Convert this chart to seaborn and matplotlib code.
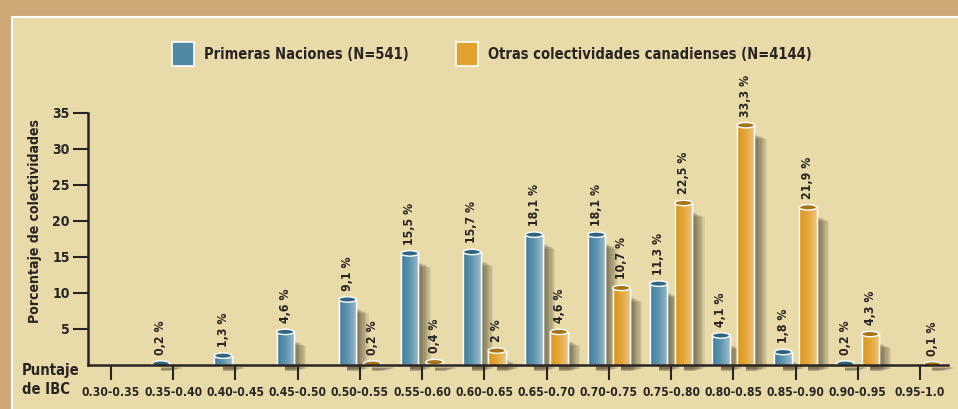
import numpy as np
import pandas as pd
import matplotlib
matplotlib.use("Agg")
import matplotlib.pyplot as plt
from matplotlib import font_manager as fm
import seaborn as sns
from matplotlib.patches import Rectangle, Ellipse, Patch
from matplotlib.colors import LinearSegmentedColormap

# Data (percent of communities per IBC score band)
categories = ["0.30-0.35", "0.35-0.40", "0.40-0.45", "0.45-0.50", "0.50-0.55",
              "0.55-0.60", "0.60-0.65", "0.65-0.70", "0.70-0.75", "0.75-0.80",
              "0.80-0.85", "0.85-0.90", "0.90-0.95", "0.95-1.0"]
first_nations = [np.nan, 0.2, 1.3, 4.6, 9.1, 15.5, 15.7, 18.1, 18.1, 11.3,
                 4.1, 1.8, 0.2, np.nan]
other_communities = [np.nan, np.nan, np.nan, np.nan, 0.2, 0.4, 2, 4.6, 10.7,
                     22.5, 33.3, 21.9, 4.3, 0.1]
series_names = ["Primeras Naciones (N=541)",
                "Otras colectividades canadienses (N=4144)"]

df = pd.DataFrame({
    "cat": categories * 2,
    "serie": [series_names[0]] * len(categories) + [series_names[1]] * len(categories),
    "valor": first_nations + other_communities,
})

# Colours
bg_outer = "#CFA878"
bg_inner = "#E8DAA9"
ink = "#2A2522"
blue = "#4F89A5"
orange = "#E2A22E"
cmaps = [LinearSegmentedColormap.from_list("b", ["#3F7D9B", "#5F95AF", "#9DBCCB"]),
         LinearSegmentedColormap.from_list("o", ["#D9961C", "#E5A73A", "#EDC585"])]
cap_colors = ["#2E6580", "#A47418"]

# pick a narrow font if one is installed
names = {f.name for f in fm.fontManager.ttflist}
has_cond = any(f.name == "DejaVu Sans" and ("ondensed" in f.fname or str(f.stretch) == "condensed")
               for f in fm.fontManager.ttflist)
if "Liberation Sans Narrow" in names:
    font = ["Liberation Sans Narrow", "DejaVu Sans"]
    stretch = "normal"
    scale = 1.05
elif has_cond:
    font = ["DejaVu Sans"]
    stretch = "condensed"
    scale = 0.8
else:
    font = ["DejaVu Sans"]
    stretch = "normal"
    scale = 0.72
plt.rcParams["font.family"] = font
plt.rcParams["font.stretch"] = stretch
plt.rcParams["font.weight"] = "bold"

fig = plt.figure(figsize=(9.58, 4.09), dpi=100, facecolor=bg_outer)
# inner cream panel with white border
fig.patches.append(Rectangle((12 / 958, -0.05), 1.0, 0.958 + 0.05,
                             transform=fig.transFigure, facecolor=bg_inner,
                             edgecolor="white", linewidth=1.5, zorder=-5))

ax = fig.add_axes([88 / 958, 44 / 409, 860 / 958, 252 / 409])
ax.set_facecolor("none")
ax.set_zorder(2)

sns.barplot(data=df, x="cat", y="valor", hue="serie", order=categories,
            hue_order=series_names, palette=[blue, orange], width=0.8, gap=0.3,
            edgecolor="white", linewidth=1.0, legend=False, ax=ax, zorder=3)

ax.set_xlim(-0.37, 13.45)
ax.set_ylim(0, 35)
ylim = ax.get_ylim()
xlim = ax.get_xlim()

grad = np.linspace(0, 1, 64).reshape(1, -1)
for i, cont in enumerate(ax.containers):
    for p in cont.patches:
        h = p.get_height()
        if not np.isfinite(h) or h <= 0:
            continue
        x0 = p.get_x()
        w = p.get_width()
        # soft shadow to the right of the bar
        for k in range(10):
            ax.add_patch(Rectangle((x0 + w * 0.5, -0.9 + 0.04 * k),
                                   w * 0.5 + 0.02 * (k + 1),
                                   max(h - 0.3 - 0.12 * k, 0.3),
                                   facecolor="#39331F", edgecolor="none",
                                   alpha=0.085, zorder=1, clip_on=False))
        # gradient fill
        im = ax.imshow(grad, extent=[x0, x0 + w, 0, h], cmap=cmaps[i],
                       aspect="auto", zorder=3.5, interpolation="bilinear")
        im.set_clip_path(p)
        ax.add_patch(Rectangle((x0, 0), w, h, facecolor="none",
                               edgecolor="white", linewidth=1.0, zorder=4))
        # cylinder cap
        ax.add_patch(Ellipse((x0 + w / 2, h), w, 0.75, facecolor=cap_colors[i],
                             edgecolor="white", linewidth=1.0, zorder=5))
        # value label
        txt = f"{h:g}".replace(".", ",") + " %"
        ax.text(x0 + w / 2, h + 1.2, txt, rotation=90, ha="center", va="bottom",
                fontsize=11 * scale, fontweight="bold", color=ink, zorder=6)

ax.set_xlim(xlim)
ax.set_ylim(ylim)

# axes styling
for s in ["top", "right"]:
    ax.spines[s].set_visible(False)
for s in ["left", "bottom"]:
    ax.spines[s].set_color(ink)
    ax.spines[s].set_linewidth(1.8)
    ax.spines[s].set_zorder(7)

ax.set_yticks([5, 10, 15, 20, 25, 30, 35])
ax.tick_params(axis="y", length=11, width=1.5, color=ink, labelsize=12.5 * scale,
               labelcolor=ink, pad=2)
ax.tick_params(axis="x", length=11, width=1.5, color=ink, labelsize=10.8 * scale,
               labelcolor=ink, pad=4)
for lab in ax.get_xticklabels() + ax.get_yticklabels():
    lab.set_fontweight("bold")

ax.set_xlabel("")
ax.set_ylabel("Porcentaje de colectividades", fontsize=12.6 * scale,
              fontweight="bold", color=ink)
ax.yaxis.set_label_coords(-0.054, 0.57)

fig.text(22 / 958, 1 - 370 / 409, "Puntaje", fontsize=13.3 * scale,
         fontweight="bold", color=ink, va="center", ha="left")
fig.text(22 / 958, 1 - 389 / 409, "de IBC", fontsize=13.3 * scale,
         fontweight="bold", color=ink, va="center", ha="left")

handles = [Patch(facecolor=blue, edgecolor="white", linewidth=1.2),
           Patch(facecolor=orange, edgecolor="white", linewidth=1.2)]
leg = fig.legend(handles, series_names, loc="center", ncol=2,
                 bbox_to_anchor=(492 / 958, 1 - 54 / 409), frameon=False,
                 handlelength=1.5, handleheight=2.2, handletextpad=0.7,
                 columnspacing=3.2,
                 prop={"weight": "bold", "size": 13.2 * scale})
for t in leg.get_texts():
    t.set_color(ink)

fig.savefig("out.png", dpi=100, facecolor=bg_outer)
